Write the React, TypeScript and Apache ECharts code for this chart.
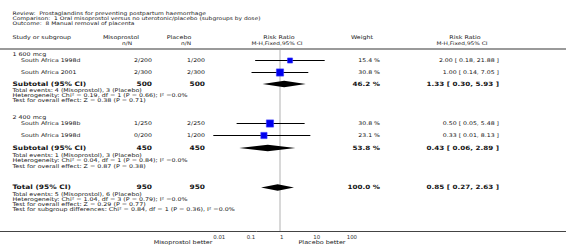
import React, { useEffect, useRef } from "react";
import * as echarts from "echarts";

// ---------- data ----------
const titleLines = [
  "Review:  Prostaglandins for preventing postpartum haemorrhage",
  "Comparison:  1 Oral misoprostol versus no uterotonic/placebo (subgroups by dose)",
  "Outcome:  8 Manual removal of placenta",
];

const subgroupNames = ["1 600 mcg", "2 400 mcg"];

const studyNames = ["South Africa 1998d", "South Africa 2001", "South Africa 1998b", "South Africa 1998d"];
const studyGroup = [0, 0, 1, 1];
const misoEvents = [2, 2, 1, 0];
const misoTotal = [200, 300, 250, 200];
const placEvents = [1, 2, 2, 1];
const placTotal = [200, 300, 250, 200];
const studyRR = [2.0, 1.0, 0.5, 0.33];
const studyLo = [0.18, 0.14, 0.05, 0.01];
const studyHi = [21.88, 7.05, 5.48, 8.13];
const studyWeight = [15.4, 30.8, 30.8, 23.1];

const subMisoN = [500, 450];
const subPlacN = [500, 450];
const subRR = [1.33, 0.43];
const subLo = [0.3, 0.06];
const subHi = [5.93, 2.89];
const subWeight = [46.2, 53.8];
const subNotes = [
  [
    "Total events: 4 (Misoprostol), 3 (Placebo)",
    "Heterogeneity: Chi² = 0.19, df = 1 (P = 0.66); I² =0.0%",
    "Test for overall effect: Z = 0.38 (P = 0.71)",
  ],
  [
    "Total events: 1 (Misoprostol), 3 (Placebo)",
    "Heterogeneity: Chi² = 0.04, df = 1 (P = 0.84); I² =0.0%",
    "Test for overall effect: Z = 0.87 (P = 0.38)",
  ],
];

const totalMisoN = 950;
const totalPlacN = 950;
const totalRR = 0.85;
const totalLo = 0.27;
const totalHi = 2.63;
const totalWeight = 100.0;
const totalNotes = [
  "Total events: 5 (Misoprostol), 6 (Placebo)",
  "Heterogeneity: Chi² = 1.04, df = 3 (P = 0.79); I² =0.0%",
  "Test for overall effect: Z = 0.29 (P = 0.77)",
  "Test for subgroup differences: Chi² = 0.84, df = 1 (P = 0.36), I² =0.0%",
];

const tickValues = [0.01, 0.1, 1, 10, 100];
const tickLabels = ["0.01", "0.1", "1", "10", "100"];
const favoursLeft = "Misoprostol better";
const favoursRight = "Placebo better";

// ---------- layout (pixels) ----------
const W = 566;
const H = 248;
const AXIS_Y = 231;
const SEP_Y = 49;
const TITLE_Y = [13, 18.5, 23.5];
const HEAD_Y = [37.5, 43];
const GROUP_LABEL_Y = [54.5, 117.5];
const STUDY_Y = [60.5, 72.5, 123.5, 135.5];
const SUB_Y = [84, 148];
const SUB_NOTE_Y = [
  [90, 95, 100],
  [155, 160.5, 166],
];
const TOTAL_Y = 187.5;
const TOTAL_NOTE_Y = [194, 199, 204, 209];

const X_LEFT = 12.5;
const X_INDENT = 21;
const X_MISO = 152;
const X_PLAC = 205;
const X_WEIGHT = 380;
const X_CI = 499;
const X_PLOT_HEAD = 279;

const FONT = "DejaVu Sans, Verdana, sans-serif";
const TXT = "#141414";
const SX = 1.22; // horizontal stretch of the reference's lettering

function fmtCI(rr: number, lo: number, hi: number) {
  return `${rr.toFixed(2)} [ ${lo.toFixed(2)}, ${hi.toFixed(2)} ]`;
}

function txt(
  text: string,
  x: number,
  y: number,
  size: number,
  align: "left" | "right" | "center" = "left",
  bold = false,
  color = TXT
) {
  return {
    type: "text",
    x,
    y,
    scaleX: SX,
    silent: true,
    style: {
      text,
      fill: color,
      fontFamily: FONT,
      fontSize: size,
      fontWeight: bold ? "bold" : "normal",
      textAlign: align,
      textVerticalAlign: "middle",
    },
  };
}

function buildOption() {
  const g: any[] = [];
  titleLines.forEach((s, i) => g.push(txt(s, X_LEFT, TITLE_Y[i], 4.9)));

  // headers
  g.push(txt("Study or subgroup", X_LEFT, HEAD_Y[0], 5.2));
  g.push(txt("Misoprostol", 121, HEAD_Y[0], 5.2, "center"));
  g.push(txt("n/N", 127, HEAD_Y[1], 4.8, "center"));
  g.push(txt("Placebo", 179, HEAD_Y[0], 5.2, "center"));
  g.push(txt("n/N", 186, HEAD_Y[1], 4.8, "center"));
  g.push(txt("Risk Ratio", X_PLOT_HEAD, HEAD_Y[0], 5.2, "center"));
  g.push(txt("M-H,Fixed,95% CI", X_PLOT_HEAD - 2, HEAD_Y[1], 4.8, "center"));
  g.push(txt("Weight", 362, HEAD_Y[0], 5.2, "center"));
  g.push(txt("Risk Ratio", 465, HEAD_Y[0], 5.2, "center"));
  g.push(txt("M-H,Fixed,95% CI", 462, HEAD_Y[1], 4.8, "center"));

  g.push({
    type: "line",
    silent: true,
    shape: { x1: 0, y1: SEP_Y, x2: W, y2: SEP_Y },
    style: { stroke: "#9a9a9a", lineWidth: 2 },
  });
  g.push({
    type: "line",
    silent: true,
    shape: { x1: 0, y1: AXIS_Y + 0.5, x2: W, y2: AXIS_Y + 0.5 },
    style: { stroke: "#444", lineWidth: 1 },
  });

  subgroupNames.forEach((name, gi) => {
    g.push(txt(name, X_LEFT, GROUP_LABEL_Y[gi], 5.2));
    studyNames.forEach((sn, i) => {
      if (studyGroup[i] !== gi) return;
      const y = STUDY_Y[i];
      g.push(txt(sn, X_INDENT, y, 5.1));
      g.push(txt(`${misoEvents[i]}/${misoTotal[i]}`, X_MISO, y, 5.1, "right"));
      g.push(txt(`${placEvents[i]}/${placTotal[i]}`, X_PLAC, y, 5.1, "right"));
      g.push(txt(`${studyWeight[i].toFixed(1)} %`, X_WEIGHT, y, 5.1, "right"));
      g.push(txt(fmtCI(studyRR[i], studyLo[i], studyHi[i]), X_CI, y, 5.1, "right"));
    });
    const sy = SUB_Y[gi];
    g.push(txt("Subtotal (95% CI)", X_LEFT, sy, 6.1, "left", true));
    g.push(txt(String(subMisoN[gi]), X_MISO, sy, 6.1, "right", true));
    g.push(txt(String(subPlacN[gi]), X_PLAC, sy, 6.1, "right", true));
    g.push(txt(`${subWeight[gi].toFixed(1)} %`, X_WEIGHT, sy, 5.9, "right", true));
    g.push(txt(fmtCI(subRR[gi], subLo[gi], subHi[gi]), X_CI, sy, 5.9, "right", true));
    subNotes[gi].forEach((n, k) => g.push(txt(n, X_LEFT, SUB_NOTE_Y[gi][k], 5.2)));
  });

  g.push(txt("Total (95% CI)", X_LEFT, TOTAL_Y, 6.1, "left", true));
  g.push(txt(String(totalMisoN), X_MISO, TOTAL_Y, 6.1, "right", true));
  g.push(txt(String(totalPlacN), X_PLAC, TOTAL_Y, 6.1, "right", true));
  g.push(txt(`${totalWeight.toFixed(1)} %`, X_WEIGHT, TOTAL_Y, 5.9, "right", true));
  g.push(txt(fmtCI(totalRR, totalLo, totalHi), X_CI, TOTAL_Y, 5.9, "right", true));
  totalNotes.forEach((n, k) => g.push(txt(n, X_LEFT, TOTAL_NOTE_Y[k], 5.2)));

  g.push(txt(favoursLeft, 183, 242, 5.3, "center"));
  g.push(txt(favoursRight, 322, 242, 5.3, "center"));

  const studyData = studyNames.map((_, i) => [studyRR[i], studyLo[i], studyHi[i], STUDY_Y[i], studyWeight[i]]);
  const diamondData = [
    ...subRR.map((r, i) => [r, subLo[i], subHi[i], SUB_Y[i]]),
    [totalRR, totalLo, totalHi, TOTAL_Y],
  ];

  return {
    animation: false,
    grid: { left: 213.3, width: 133.4, top: 0, height: AXIS_Y, containLabel: false },
    xAxis: {
      type: "log",
      logBase: 10,
      min: 0.01,
      max: 100,
      axisLine: { show: false },
      axisTick: { show: true, inside: true, length: 2, lineStyle: { color: "#444" } },
      splitLine: { show: false },
      minorTick: { show: false },
      axisLabel: {
        show: true,
        fontSize: 5.4,
        fontFamily: FONT,
        color: "#333",
        align: "left",
        margin: 3,
        formatter: (v: number) => {
          let best = 0;
          tickValues.forEach((t, i) => {
            if (Math.abs(Math.log10(t) - Math.log10(v)) < Math.abs(Math.log10(tickValues[best]) - Math.log10(v))) best = i;
          });
          return tickLabels[best];
        },
      },
    },
    yAxis: { type: "value", min: 0, max: AXIS_Y, inverse: true, show: false },
    graphic: g,
    series: [
      {
        type: "custom",
        silent: true,
        data: [[1, SEP_Y + 1, AXIS_Y]],
        encode: { x: 0, y: 1 },
        z: 1,
        renderItem: (_p: any, api: any) => {
          const a = api.coord([api.value(0), api.value(1)]);
          const b = api.coord([api.value(0), api.value(2)]);
          return {
            type: "line",
            shape: { x1: a[0], y1: a[1], x2: b[0], y2: b[1] },
            style: { stroke: "#d8d8d8", lineWidth: 2 },
          };
        },
      },
      {
        type: "custom",
        silent: true,
        data: studyData,
        encode: { x: 0, y: 3 },
        z: 3,
        renderItem: (_p: any, api: any) => {
          const y = api.value(3);
          const pl = api.coord([api.value(1), y]);
          const ph = api.coord([api.value(2), y]);
          const pe = api.coord([api.value(0), y]);
          const s = 1.3 * Math.sqrt(api.value(4));
          return {
            type: "group",
            children: [
              {
                type: "line",
                shape: { x1: pl[0], y1: pl[1], x2: ph[0], y2: ph[1] },
                style: { stroke: "#000", lineWidth: 1 },
              },
              {
                type: "rect",
                shape: { x: pe[0] - s / 2, y: pe[1] - s / 2, width: s, height: s },
                style: { fill: "#0000ee", stroke: "#3a3aff", lineWidth: 0.6 },
              },
            ],
          };
        },
      },
      {
        type: "custom",
        silent: true,
        data: diamondData,
        encode: { x: 0, y: 3 },
        z: 3,
        renderItem: (_p: any, api: any) => {
          const y = api.value(3);
          const pl = api.coord([api.value(1), y]);
          const ph = api.coord([api.value(2), y]);
          const pe = api.coord([api.value(0), y]);
          const hh = 3.2;
          return {
            type: "polygon",
            shape: {
              points: [
                [pl[0], pl[1]],
                [pe[0], pe[1] - hh],
                [ph[0], ph[1]],
                [pe[0], pe[1] + hh],
              ],
            },
            style: { fill: "#000" },
          };
        },
      },
    ],
  };
}

export default function App() {
  const ref = useRef<HTMLDivElement>(null);
  useEffect(() => {
    document.body.style.margin = "0";
    const chart = echarts.init(ref.current!, null, { renderer: "svg" });
    chart.setOption(buildOption() as any);
    return () => chart.dispose();
  }, []);
  return <div ref={ref} style={{ width: W, height: H, background: "#fff" }} />;
}
